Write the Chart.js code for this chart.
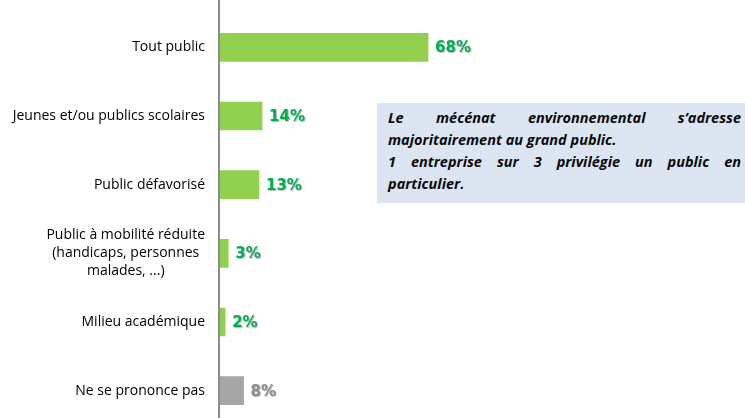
<!DOCTYPE html>
<html><head><meta charset="utf-8">
<script src="https://cdn.jsdelivr.net/npm/chart.js@4"></script>
<style>
html,body{margin:0;padding:0;background:#fff;overflow:hidden;}
#wrap{position:relative;width:745px;height:418px;overflow:hidden;}
canvas{position:absolute;left:0;top:0;}
#note{position:absolute;left:377px;top:103px;width:368px;height:100px;background:#DCE6F2;box-sizing:border-box;padding:4px 4px 0 11px;
font-family:"Open Sans",sans-serif;font-weight:bold;font-style:italic;font-size:14.5px;line-height:22px;color:#0a0a0a;}
#note div{white-space:nowrap;}
#note .j{text-align:justify;text-align-last:justify;}
</style></head><body>
<div id="wrap"><canvas id="c" width="745" height="425"></canvas>
<div id="note">
<div class="j">Le mécénat environnemental s’adresse</div>
<div>majoritairement au grand public.</div>
<div class="j">1 entreprise sur 3 privilégie un public en</div>
<div>particulier.</div>
</div>
</div>
<script>
const categories = [
  ["Tout public"],
  ["Jeunes et/ou publics scolaires"],
  ["Public défavorisé"],
  ["Public à mobilité réduite","(handicaps, personnes","malades, ...)"],
  ["Milieu académique"],
  ["Ne se prononce pas"]
];
const values = [68, 14, 13, 3, 2, 8];
const barColors = ["#92D050","#92D050","#92D050","#92D050","#92D050","#A6A6A6"];
const labelColors = ["#00B050","#00B050","#00B050","#00B050","#00B050","#8C8C8C"];

const drawPlugin = {
  id:'drawPlugin',
  afterDraw(chart){
    const ctx = chart.ctx, y = chart.scales.y, x = chart.scales.x;
    const left = chart.chartArea.left;
    ctx.save();
    ctx.strokeStyle = "#8C8C8C"; ctx.lineWidth = 2;
    ctx.beginPath(); ctx.moveTo(left, 0); ctx.lineTo(left, chart.height); ctx.stroke();
    ctx.font = "14px 'Open Sans', sans-serif";
    ctx.fillStyle = "#000"; ctx.textBaseline = "middle"; ctx.textAlign = "center";
    const right = left - 14, lh = 18;
    categories.forEach((lines,i)=>{
      const cy = y.getPixelForValue(i);
      const w = Math.max(...lines.map(l=>ctx.measureText(l).width));
      const cx = right - w/2;
      lines.forEach((l,k)=>{
        ctx.fillText(l, cx, cy + (k - (lines.length-1)/2)*lh);
      });
    });
    ctx.font = "bold 15px 'DejaVu Sans', sans-serif";
    ctx.textAlign = "left";
    values.forEach((v,i)=>{
      const px = x.getPixelForValue(v) + 7, py = y.getPixelForValue(i)+1;
      ctx.shadowColor = "rgba(170,170,170,0.8)"; ctx.shadowOffsetX = 1; ctx.shadowOffsetY = 1; ctx.shadowBlur = 0;
      ctx.fillStyle = labelColors[i];
      ctx.fillText(v + "%", px, py);
    });
    ctx.restore();
  }
};

new Chart(document.getElementById('c'), {
  type:'bar',
  data:{ labels: categories.map(c=>c.join(' ')), datasets:[{ data: values, backgroundColor: barColors, borderWidth:0, barThickness:28 }]},
  options:{
    indexAxis:'y', responsive:false, animation:false, devicePixelRatio:1,
    layout:{ padding:{ top:13, bottom:0, left:0, right:218.6 } },
    plugins:{ legend:{display:false}, tooltip:{enabled:false} },
    scales:{
      x:{ display:false, min:0, max:100 },
      y:{ grid:{display:false}, border:{display:false}, ticks:{display:false},
          afterFit(s){ s.width = 219; } }
    }
  },
  plugins:[drawPlugin]
});
</script>
</body></html>
